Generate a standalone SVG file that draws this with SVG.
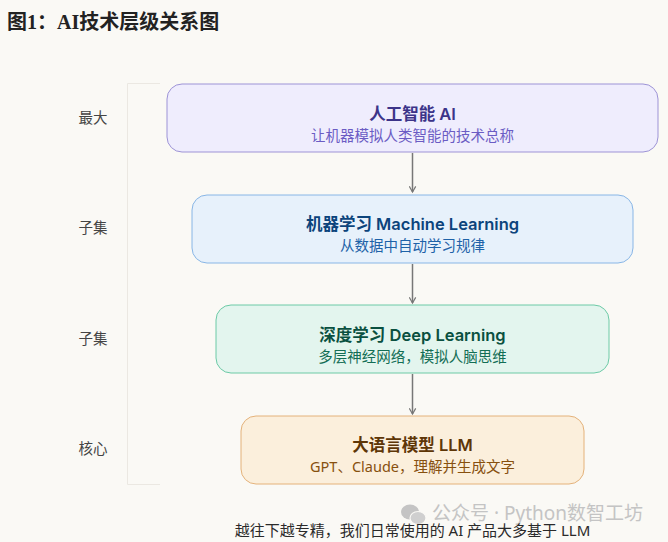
<svg xmlns="http://www.w3.org/2000/svg" width="668" height="542" viewBox="0 0 668 542">
<style>
.t{font-family:"Noto Sans","Noto Sans CJK SC",sans-serif;text-anchor:middle}
.tt{font-family:Inter,"Noto Sans CJK SC",sans-serif;font-size:16.5px;font-weight:600}
.st{font-size:14.5px}
.lbl{font-family:"Noto Sans CJK SC","Noto Sans",sans-serif;font-size:14.5px;fill:#444;text-anchor:middle}
.conn line{stroke:#777;stroke-width:1.5}
</style>
<defs>
<marker id="ah" viewBox="0 0 10 10" refX="8" refY="5" markerWidth="8" markerHeight="8" markerUnits="userSpaceOnUse" orient="auto">
<path d="M1,1 L8,5 L1,9" fill="none" stroke="#777" stroke-width="1.5"/>
</marker>
</defs>
<rect width="668" height="542" fill="#faf9f5"/>
<text x="7" y="29" font-family="Liberation Serif,Noto Sans CJK SC,serif" font-size="20" font-weight="700" fill="#222">图1：AI技术层级关系图</text>
<path d="M160,83.5 H127.5 V484.5 H160" fill="none" stroke="#ebe8e2" stroke-width="1"/>
<g id="labels">
<text class="lbl" x="93" y="123">最大</text>
<text class="lbl" x="93" y="233">子集</text>
<text class="lbl" x="93" y="344">子集</text>
<text class="lbl" x="93" y="454">核心</text>
</g>
<g class="conn" id="connectors">
<line x1="412.5" y1="153" x2="412.5" y2="192" marker-end="url(#ah)"/>
<line x1="412.5" y1="264" x2="412.5" y2="303" marker-end="url(#ah)"/>
<line x1="412.5" y1="374" x2="412.5" y2="414" marker-end="url(#ah)"/>
</g>
<g id="ai">
<rect x="167" y="84" width="491" height="68" rx="15" fill="#efedfd" stroke="#9d93d6" stroke-width="1"/>
<text class="t tt" x="412.5" y="120" fill="#3c3489">人工智能 AI</text>
<text class="t st" x="412.5" y="141" fill="#6b5cc4">让机器模拟人类智能的技术总称</text>
</g>
<g id="ml">
<rect x="192" y="195" width="441" height="68" rx="15" fill="#e7f1fb" stroke="#88b6e6" stroke-width="1"/>
<text class="t tt" x="412.5" y="230" fill="#0c447c">机器学习 Machine Learning</text>
<text class="t st" x="412.5" y="251" fill="#1e62a8">从数据中自动学习规律</text>
</g>
<g id="dl">
<rect x="216" y="305" width="393" height="68" rx="15" fill="#e3f5ee" stroke="#6ccaa6" stroke-width="1"/>
<text class="t tt" x="412.5" y="341" fill="#0a5040">深度学习 Deep Learning</text>
<text class="t st" x="412.5" y="362" fill="#136e55">多层神经网络，模拟人脑思维</text>
</g>
<g id="llm">
<rect x="241" y="416" width="343" height="68" rx="15" fill="#fbefdc" stroke="#e4b27a" stroke-width="1"/>
<text class="t tt" x="412.5" y="451" fill="#5e3607">大语言模型 LLM</text>
<text class="t st" x="412.5" y="472" fill="#87500f">GPT、Claude，理解并生成文字</text>
</g>
<g id="watermark" fill="#c4c4c4">
<ellipse cx="410" cy="512" rx="9" ry="7.5"/>
<ellipse cx="418" cy="518" rx="8" ry="6.5" fill="#cfcfcf" stroke="#faf9f5" stroke-width="1.2"/>
<text x="432" y="520" font-family="Noto Sans,Noto Sans CJK SC,sans-serif" font-size="19" fill="#c4c4c4">公众号 · Python数智工坊</text>
</g>
<text class="t" x="412.5" y="536" font-size="15" fill="#2a2a2a">越往下越专精，我们日常使用的 AI 产品大多基于 LLM</text>
</svg>
